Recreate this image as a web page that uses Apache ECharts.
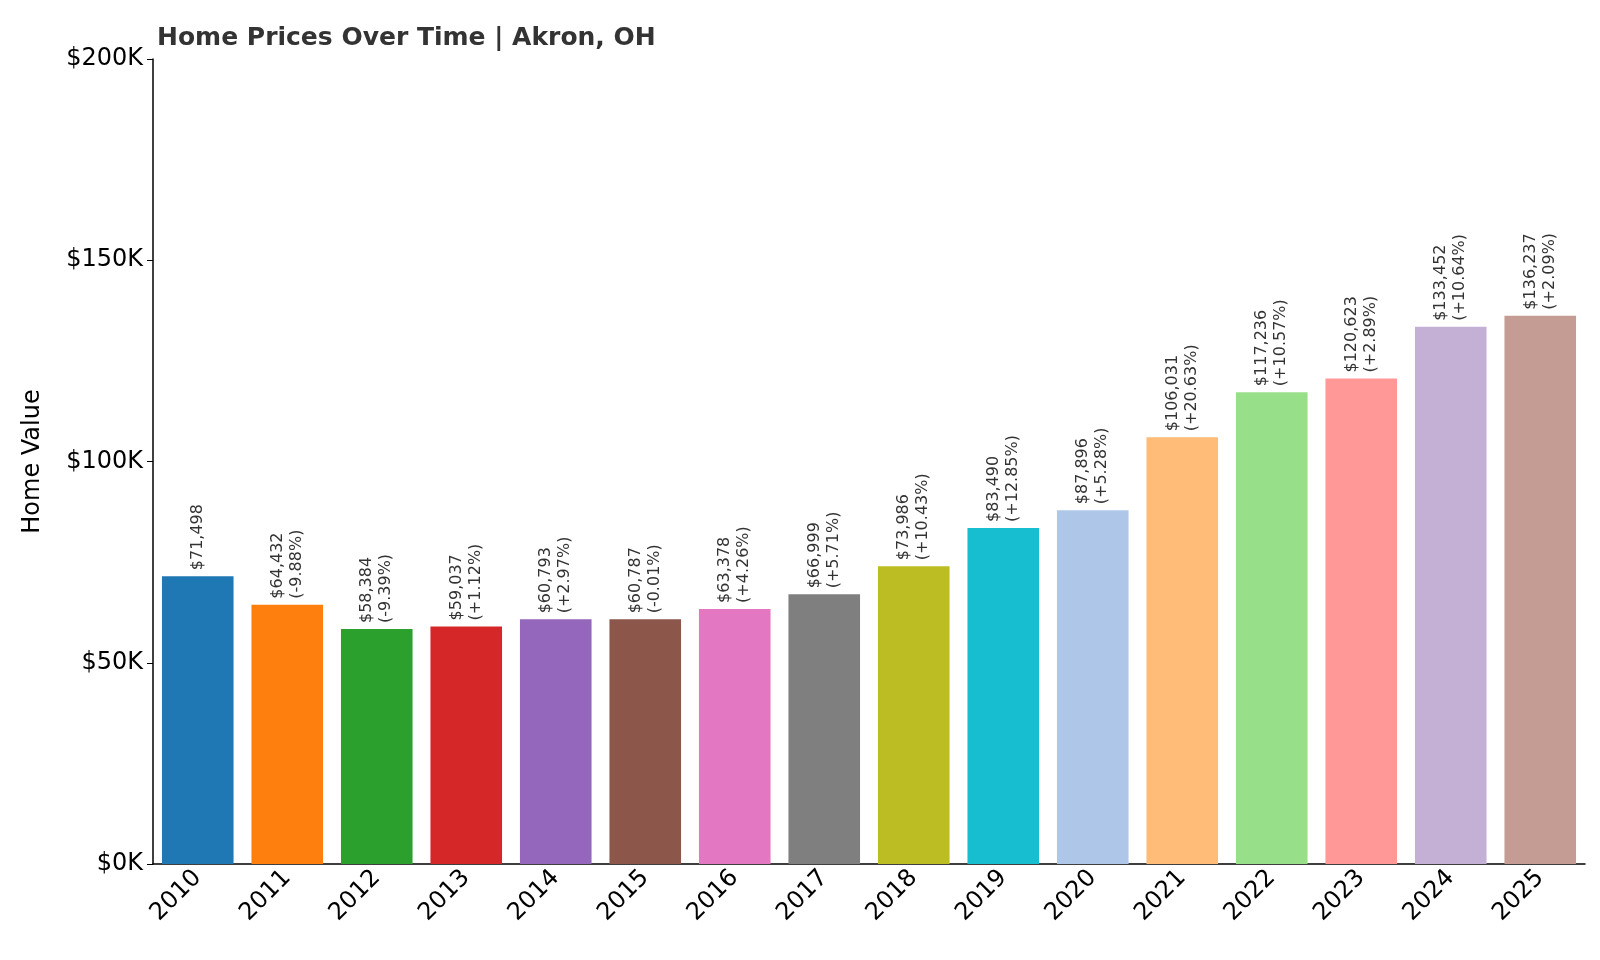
<!DOCTYPE html>
<html>
<head>
<meta charset="utf-8">
<script src="https://cdn.jsdelivr.net/npm/echarts@6/dist/echarts.min.js"></script>
<style>body{margin:0;background:#fff}#main{width:1600px;height:960px}</style>
</head>
<body>
<div id="main"></div>
<script>
var years = ['2010','2011','2012','2013','2014','2015','2016','2017','2018','2019','2020','2021','2022','2023','2024','2025'];
var values = [71498,64432,58384,59037,60793,60787,63378,66999,73986,83490,87896,106031,117236,120623,133452,136237];
var changes = ['','-9.88%','-9.39%','+1.12%','+2.97%','-0.01%','+4.26%','+5.71%','+10.43%','+12.85%','+5.28%','+20.63%','+10.57%','+2.89%','+10.64%','+2.09%'];
var colors = ['#1f77b4','#ff7f0e','#2ca02c','#d62728','#9467bd','#8c564b','#e377c2','#7f7f7f','#bcbd22','#17becf','#aec7e8','#ffbb78','#98df8a','#ff9896','#c5b0d5','#c49c94'];

var chart = echarts.init(document.getElementById('main'));
chart.setOption({
    animation: false,
    title: {
        text: 'Home Prices Over Time | Akron, OH',
        left: 152, top: 21,
        textStyle: {fontFamily: 'DejaVu Sans', fontSize: 25, fontWeight: 'bold', color: '#333'}
    },
    grid: {left: 153, right: 15, top: 59, bottom: 96},
    xAxis: {
        type: 'category', data: years,
        axisLine: {lineStyle: {color: '#000', width: 1.5}},
        axisTick: {alignWithLabel: true, length: 6, lineStyle: {color: '#000'}},
        axisLabel: {rotate: 45, fontFamily: 'DejaVu Sans', fontSize: 24, color: '#000', margin: 10}
    },
    yAxis: {
        type: 'value', min: 0, max: 200000, interval: 50000,
        name: 'Home Value', nameLocation: 'middle', nameGap: 108,
        nameTextStyle: {fontFamily: 'DejaVu Sans', fontSize: 24, color: '#000'},
        splitLine: {show: false},
        axisLine: {show: true, lineStyle: {color: '#000', width: 1.5}},
        axisTick: {show: true, length: 6, lineStyle: {color: '#000'}},
        axisLabel: {fontFamily: 'DejaVu Sans', fontSize: 24, color: '#000', margin: 10,
            formatter: function (v) { return '$' + (v / 1000) + 'K'; }}
    },
    series: [{
        type: 'bar',
        barCategoryGap: '20%',
        data: values.map(function (v, i) { return {value: v, itemStyle: {color: colors[i]}}; }),
        label: {
            show: true, position: 'top', rotate: 90, align: 'left', verticalAlign: 'middle',
            distance: 6, fontFamily: 'DejaVu Sans', fontSize: 16, color: '#333', lineHeight: 19,
            formatter: function (p) {
                var s = '$' + values[p.dataIndex].toLocaleString('en-US');
                return changes[p.dataIndex] ? s + '\n(' + changes[p.dataIndex] + ')' : s;
            }
        }
    }]
});
</script>
</body>
</html>
